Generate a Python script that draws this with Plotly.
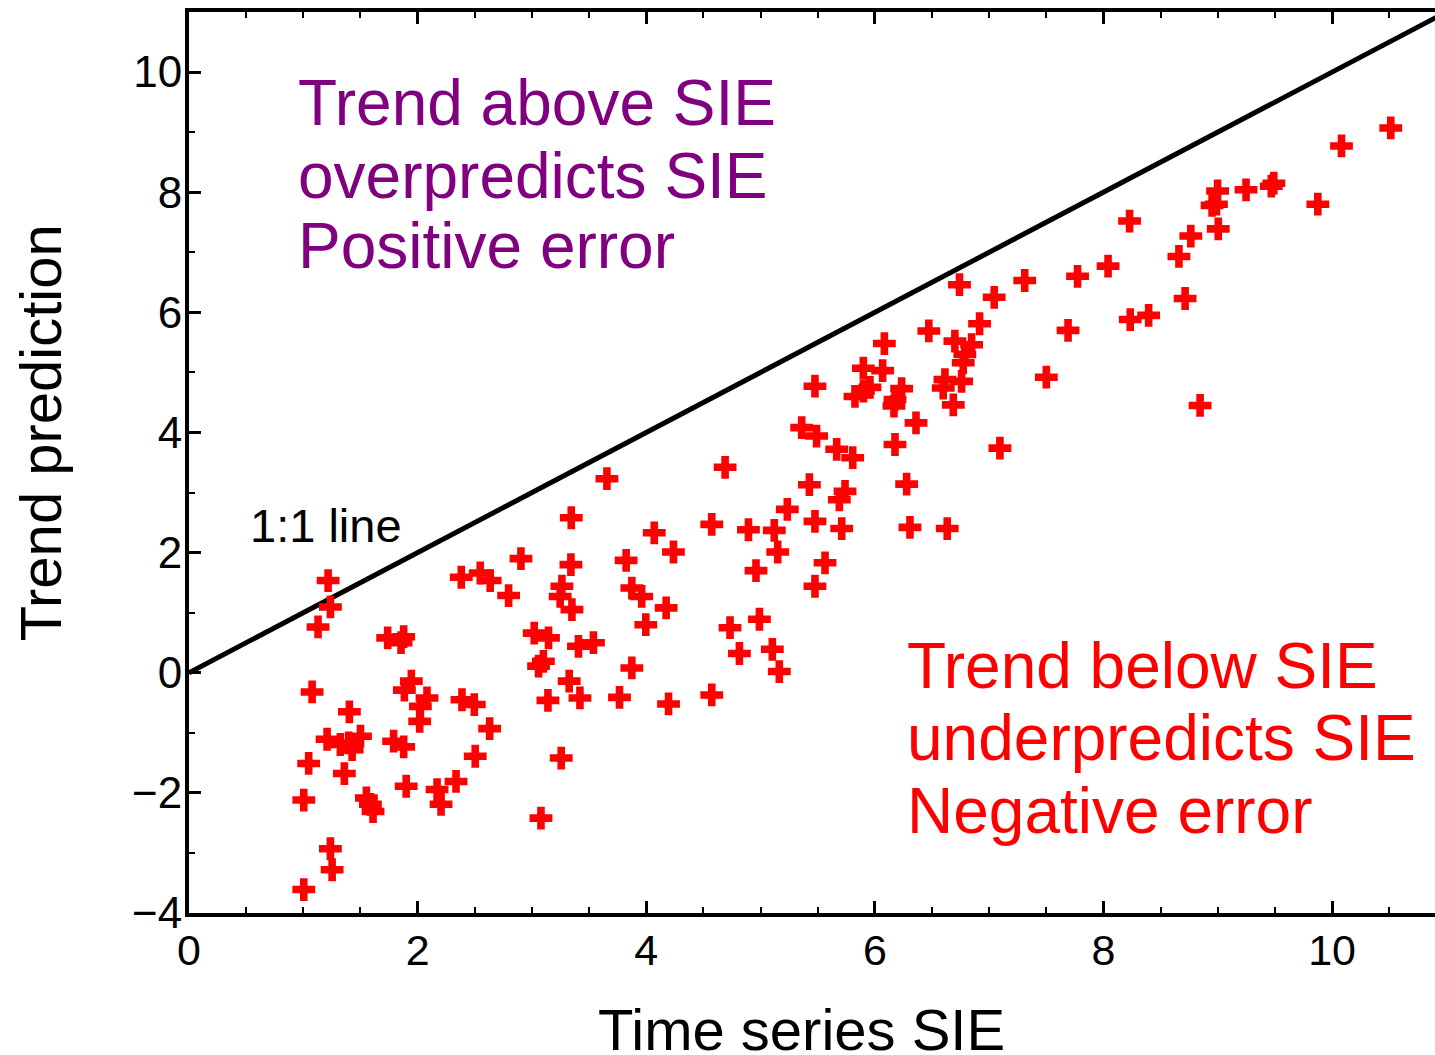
import plotly.graph_objects as go

# Time series SIE (x) and trend prediction (y)
sie = [1.217, 1.237, 1.129, 1.738, 1.878, 1.855, 1.077, 1.403, 1.208, 1.397, 1.5, 1.427, 1.324,
       1.047, 1.359, 1.004, 1.552, 1.587, 1.61, 1.237, 1.252, 1.004, 1.79, 1.878, 1.90, 1.945,
       1.884, 2.082, 2.024, 2.018, 2.388, 2.496, 2.63, 2.504, 2.336, 2.17, 2.205, 2.382, 2.548,
       2.635, 2.796, 2.904, 3.341, 3.262, 3.247, 3.35, 3.02, 3.145, 3.407, 3.538, 3.10, 3.058,
       3.326, 3.42, 3.14, 3.256, 3.079,
       3.656, 4.69, 3.344, 4.07, 4.238, 4.573, 4.894, 5.12, 5.234, 5.427, 5.476, 5.15, 4.96,
       5.564, 5.476, 3.824, 3.874, 3.96, 4.174, 3.996, 3.874, 3.766, 4.195, 4.573, 4.733, 4.99,
       4.815, 5.103, 5.164,
       6.472, 6.916, 6.083, 6.70, 6.846, 6.787, 6.773, 5.899, 6.068, 5.957, 5.826, 5.9, 6.234,
       6.176, 6.167, 6.613, 6.759, 6.598, 6.686, 5.476, 6.36, 5.36, 5.49, 5.666, 5.806, 6.176,
       7.094, 5.739, 5.689, 6.278, 5.71, 6.307, 6.633,
       10.513, 10.082, 8.998, 8.988, 8.95, 9.247, 9.468, 9.49, 9.875, 9.004, 8.764, 8.66, 8.228,
       8.04, 7.773, 7.311, 7.044, 6.74, 8.714, 8.234, 8.395, 7.69, 7.50, 8.845]
trend = [1.535, 1.095, 0.762, 0.58, 0.60, 0.50, -0.32, -0.65, -1.107, -1.169, -1.057, -1.28, -1.195,
         -1.51, -1.678, -2.12, -2.085, -2.19, -2.31, -2.93, -3.28, -3.61, -1.14, -1.235, -1.89, -0.14,
         -0.29, -0.42, -0.56, -0.81, -0.45, -0.53, -0.93, -1.39, -1.81, -1.945, -2.19, 1.59, 1.66,
         1.535, 1.285, 1.90, 1.80, 1.44, 1.27, 1.05, 0.66, 0.58, 0.44, 0.50, 0.19, 0.11,
         -0.14, -0.42, -0.46, -1.42, -2.42,
         3.23, 3.42, 2.58, 2.33, 2.01, 2.47, 2.38, 2.37, 2.72, 3.13, 2.52, 2.01, 1.70,
         1.83, 1.44, 1.87, 1.41, 1.27, 1.08, 0.80, 0.08, -0.41, -0.52, -0.37, 0.75, 0.89,
         0.32, 0.39, 0.02,
         5.69, 5.81, 5.48, 5.52, 5.46, 5.30, 5.16, 5.07, 5.03, 4.75, 4.60, 4.69, 4.73,
         4.55, 4.44, 4.88, 4.85, 4.74, 4.46, 4.77, 4.16, 4.08, 3.94, 3.72, 3.58, 3.80,
         3.74, 3.02, 2.88, 3.14, 2.40, 2.42, 2.40,
         9.07, 8.77, 8.02, 7.80, 7.78, 8.04, 8.10, 8.15, 7.80, 7.39, 7.27, 6.93, 7.52,
         6.77, 6.60, 6.53, 6.25, 6.46, 6.23, 5.88, 5.95, 5.70, 4.92, 4.45]

one_to_one = [0, 11]
x_ticks = [0, 2, 4, 6, 8, 10]
y_ticks = [-4, -2, 0, 2, 4, 6, 8, 10]
y_tick_text = ["\u22124", "\u22122", "0", "2", "4", "6", "8", "10"]

upper_lines = ["Trend above SIE", "overpredicts SIE", "Positive error"]
upper_y = [9.489, 8.267, 7.097]
lower_lines = ["Trend below SIE", "underpredicts SIE", "Negative error"]
lower_y = [0.105, -1.087, -2.297]

FONT = "Liberation Sans, Arial, Helvetica, sans-serif"

fig = go.Figure()
fig.add_trace(go.Scatter(x=one_to_one, y=one_to_one, mode="lines",
                         line=dict(color="black", width=5), showlegend=False,
                         hoverinfo="skip"))
fig.add_trace(go.Scatter(x=sie, y=trend, mode="markers",
                         marker=dict(symbol="cross", size=19, color="#ff0000",
                                     line=dict(width=0)),
                         showlegend=False))

ann = []
for t, yy in zip(upper_lines, upper_y):
    ann.append(dict(x=0.94, y=yy, xref="x", yref="y", text=t, showarrow=False,
                    xanchor="left", yanchor="middle",
                    font=dict(family=FONT, size=64, color="#800080")))
for t, yy in zip(lower_lines, lower_y):
    ann.append(dict(x=6.26, y=yy, xref="x", yref="y", text=t, showarrow=False,
                    xanchor="left", yanchor="middle",
                    font=dict(family=FONT, size=64, color="#ff0000")))
ann.append(dict(x=0.52, y=2.449, xref="x", yref="y", text="1:1 line", showarrow=False,
                xanchor="left", yanchor="middle",
                font=dict(family=FONT, size=47, color="black")))
ann.append(dict(x=0.4914, y=-0.1295, xref="paper", yref="paper", text="Time series SIE",
                showarrow=False, xanchor="center", yanchor="middle",
                font=dict(family=FONT, size=58, color="black")))
ann.append(dict(x=-0.119, y=0.5333, xref="paper", yref="paper", text="Trend prediction",
                showarrow=False, xanchor="center", yanchor="middle", textangle=-90,
                font=dict(family=FONT, size=58, color="black")))

fig.update_layout(
    width=1435, height=1055,
    margin=dict(l=189, r=0, t=12, b=142),
    paper_bgcolor="white", plot_bgcolor="white",
    annotations=ann,
    xaxis=dict(range=[0, 10.9], showgrid=False, zeroline=False,
               showline=True, linecolor="black", linewidth=4, mirror="ticks",
               ticks="inside", ticklen=12, tickwidth=2.5, tickcolor="black",
               tickvals=x_ticks, ticktext=[str(v) for v in x_ticks],
               ticklabelstandoff=-4,
               tickfont=dict(family=FONT, size=43, color="black"),
               minor=dict(dtick=0.5, ticks="inside", ticklen=6, tickwidth=2,
                          tickcolor="black", showgrid=False)),
    yaxis=dict(range=[-4, 11], showgrid=False, zeroline=False,
               showline=True, linecolor="black", linewidth=4,
               ticks="inside", ticklen=12, tickwidth=2.5, tickcolor="black",
               tickvals=y_ticks, ticktext=y_tick_text,
               ticklabelstandoff=-6,
               tickfont=dict(family=FONT, size=44, color="black"),
               minor=dict(dtick=1, ticks="inside", ticklen=6, tickwidth=2,
                          tickcolor="black", showgrid=False)),
)

fig.write_html(
    "out.html",
    config={"displayModeBar": False},
    post_script="document.body.style.margin='0';"
                "document.body.style.overflow='hidden';"
                "document.documentElement.style.overflow='hidden';",
)
